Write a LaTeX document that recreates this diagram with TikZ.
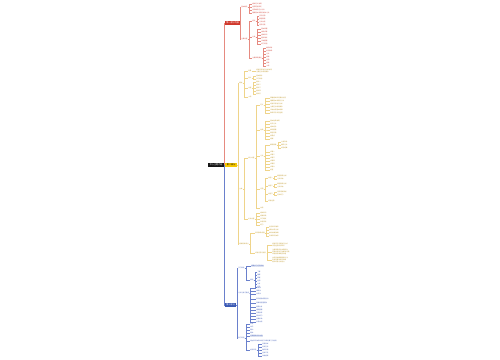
\documentclass[tikz,border=0pt]{standalone}
\usepackage{fontspec}
\newfontfamily\cjk{Noto Sans CJK SC}
\usetikzlibrary{positioning}
\definecolor{rootbg}{HTML}{151515}
\definecolor{redbox}{HTML}{D0382C}
\definecolor{redln}{HTML}{E68A80}
\definecolor{redtxt}{HTML}{D04A40}
\definecolor{yelbox}{HTML}{F6C800}
\definecolor{yelln}{HTML}{EFD48A}
\definecolor{yeltxt}{HTML}{C09A30}
\definecolor{bluebox}{HTML}{3A59B4}
\definecolor{blueln}{HTML}{6A80CC}
\definecolor{bluetxt}{HTML}{4560B8}
\newcommand\boxfont{\cjk\fontsize{3}{3.4}\selectfont}
\newcommand\leaffont{\cjk\fontsize{2.2}{2.6}\selectfont}
\tikzstyle{mainbox}=[inner sep=0.5pt, anchor=west, minimum height=5.4pt, font=\boxfont]
\tikzstyle{leaf}=[inner sep=0.3pt, anchor=west, font=\leaffont, align=left]
\tikzstyle{redarrow}=[redln, line width=0.35pt]
\tikzstyle{yelarrow}=[yelln, line width=0.35pt]
\tikzstyle{bluearrow}=[blueln, line width=0.35pt]

\begin{document}
\begin{tikzpicture}[x=0.05cm, y=-0.05cm]
  \useasboundingbox (0,0) rectangle (500,360);

  \node[mainbox,fill=rootbg,text=white,minimum width=0.8cm] (root) at (208,165) {中心主题内容};

  % first branch
  \node[mainbox,fill=redbox,text=white,minimum width=0.75cm] (red) at (225,23) {第一部分内容};
  \draw[redarrow, line width=0.6pt] (root.east) |- (red.west);
  \node[leaf,text=redtxt] (r1) at (241,7) {基本概念};
  \node[leaf,text=redtxt] (r2) at (241,39) {主要内容};
  \draw[redarrow] (red.east) |- (r1.west);
  \draw[redarrow] (red.east) |- (r2.west);
  \foreach \y/\t in {4/相关定义说明, 7/适用范围界定, 10/常见概念区分方法, 13/理解基本原理与相关方法}
    {\node[leaf,text=redtxt] (r1-\y) at (252,\y) {\t};
     \draw[redarrow] (r1.east) -- ++(1,0) |- (r1-\y.west);}
  \node[leaf,text=redtxt] (r2a) at (252,21) {特点};
  \node[leaf,text=redtxt] (r2b) at (252,37) {分类};
  \node[leaf,text=redtxt] (r2c) at (252,58) {注意事项要点};
  \foreach \n in {r2a,r2b,r2c} \draw[redarrow] (r2.east) -- ++(1,0) |- (\n.west);
  \foreach \y/\t in {16/实际应用, 19/典型例题, 22/方法总结, 25/常见问题}
    {\node[leaf,text=redtxt] (r2a-\y) at (259,\y) {\t};
     \draw[redarrow] (r2a.east) -- ++(1,0) |- (r2a-\y.west);}
  \foreach \y/\t in {29/基本原理, 32/操作步骤, 35/相关知识, 38/重点难点, 41/归纳整理, 44/练习巩固}
    {\node[leaf,text=redtxt] (r2b-\y) at (261,\y) {\t};
     \draw[redarrow] (r2b.east) -- ++(1,0) |- (r2b-\y.west);}
  \foreach \y/\t in {48/概念辨析, 51/前后联系, 54/方法, 57/规律, 60/应用, 63/拓展, 66/小结}
    {\node[leaf,text=redtxt] (r2c-\y) at (266,\y) {\t};
     \draw[redarrow] (r2c.east) -- ++(1,0) |- (r2c-\y.west);}

  % second branch
  \node[mainbox,fill=yelbox,text=black,minimum width=0.6cm] (yel) at (225,165) {第二部分};
  \draw[yelarrow, line width=0.6pt] (root.east) -- (yel.west);
  \node[leaf,text=yeltxt] (y1) at (239,83) {概述};
  \node[leaf,text=yeltxt] (y2) at (239,189) {主体};
  \node[leaf,text=yeltxt] (y3) at (239,244) {拓展延伸部分};
  \foreach \n in {y1,y2,y3} \draw[yelarrow] (yel.east) -- ++(1,0) |- (\n.west);

  \node[leaf,text=yeltxt] (y1a) at (248,71) {背景};
  \node[leaf,text=yeltxt] (y1b) at (248,78) {意义};
  \node[leaf,text=yeltxt] (y1c) at (248,88) {内容};
  \node[leaf,text=yeltxt] (y1d) at (248,97) {小结};
  \foreach \n in {y1a,y1b,y1c,y1d} \draw[yelarrow] (y1.east) -- ++(1,0) |- (\n.west);
  \node[leaf,text=yeltxt] (y1a-1) at (256,71) {结合实例进行分析说明\\注意区分相近概念};
  \draw[yelarrow] (y1a.east) -- (y1a-1.west);
  \foreach \y/\t in {76/基本要求, 79/学习目标}
    {\node[leaf,text=yeltxt] (y1b-\y) at (256,\y) {\t};
     \draw[yelarrow] (y1b.east) -- ++(1,0) |- (y1b-\y.west);}
  \foreach \y/\t in {82/要点一, 85/要点二, 88/要点三, 91/要点四, 94/要点五}
    {\node[leaf,text=yeltxt] (y1c-\y) at (256,\y) {\t};
     \draw[yelarrow] (y1c.east) -- ++(1,0) |- (y1c-\y.west);}

  \node[leaf,text=yeltxt] (y2a) at (248,158) {核心内容};
  \node[leaf,text=yeltxt] (y2b) at (248,219) {补充内容};
  \foreach \n in {y2a,y2b} \draw[yelarrow] (y2.east) -- ++(1,0) |- (\n.west);
  \node[leaf,text=yeltxt] (ya) at (260,105) {定义};
  \node[leaf,text=yeltxt] (yb) at (260,130) {性质};
  \node[leaf,text=yeltxt] (yc) at (260,156) {方法};
  \node[leaf,text=yeltxt] (yd) at (260,189) {应用};
  \node[leaf,text=yeltxt] (ye) at (260,208) {总结};
  \foreach \n in {ya,yb,yc,yd,ye} \draw[yelarrow] (y2a.east) -- ++(1,0) |- (\n.west);
  \foreach \y/\t in {98/掌握相关知识要点内容, 101/理解基本原理与方法, 104/结合实例进行分析, 107/注意区分相近概念, 110/归纳总结基本规律, 113/联系实际灵活运用}
    {\node[leaf,text=yeltxt] (ya-\y) at (270,\y) {\t};
     \draw[yelarrow] (ya.east) -- ++(1,0) |- (ya-\y.west);}
  \foreach \y/\t in {121/基本性质说明, 124/判定方法, 127/相关结论, 130/推论整理, 133/典型问题, 136/易错点, 139/拓展}
    {\node[leaf,text=yeltxt] (yb-\y) at (270,\y) {\t};
     \draw[yelarrow] (yb.east) -- ++(1,0) |- (yb-\y.west);}
  \node[leaf,text=yeltxt] (yc1) at (270,145) {解题思路};
  \draw[yelarrow] (yc.east) -- ++(1,0) |- (yc1.west);
  \foreach \y/\t in {142/分析条件, 145/确定方法, 148/检验结果}
    {\node[leaf,text=yeltxt] (yc1-\y) at (281,\y) {\t};
     \draw[yelarrow] (yc1.east) -- ++(1,0) |- (yc1-\y.west);}
  \foreach \y/\t in {152/步骤一, 155/步骤二, 158/步骤三, 161/步骤四, 164/步骤五, 167/步骤六, 170/检查}
    {\node[leaf,text=yeltxt] (yc-\y) at (270,\y) {\t};
     \draw[yelarrow] (yc.east) -- ++(1,0) |- (yc-\y.west);}
  \node[leaf,text=yeltxt] (yd1) at (268,178) {类型一};
  \node[leaf,text=yeltxt] (yd2) at (268,186) {类型二};
  \node[leaf,text=yeltxt] (yd3) at (268,194) {类型三};
  \node[leaf,text=yeltxt] (yd4) at (268,201) {综合运用};
  \foreach \n in {yd1,yd2,yd3,yd4} \draw[yelarrow] (yd.east) -- ++(1,0) |- (\n.west);
  \foreach \p/\y/\t in {yd1/176/典型例题分析, yd1/179/方法归纳, yd2/184/典型例题分析, yd2/187/方法归纳, yd3/192/常见错误辨析, yd3/195/变式练习}
    {\node[leaf,text=yeltxt] (\p-\y) at (277,\y) {\t};
     \draw[yelarrow] (\p.east) -- ++(1,0) |- (\p-\y.west);}
  \foreach \y/\t in {213/相关知识, 216/拓展阅读, 219/学习建议, 222/参考资料, 225/练习}
    {\node[leaf,text=yeltxt] (y2b-\y) at (260,\y) {\t};
     \draw[yelarrow] (y2b.east) -- ++(1,0) |- (y2b-\y.west);}

  \node[leaf,text=yeltxt] (y3a) at (255,233) {知识联系梳理};
  \node[leaf,text=yeltxt] (y3b) at (255,253) {综合应用与提升};
  \foreach \n in {y3a,y3b} \draw[yelarrow] (y3.east) -- ++(1,0) |- (\n.west);
  \foreach \y/\t in {227/前后知识联系, 230/横向比较分析, 233/纵向发展脉络, 236/形成知识体系}
    {\node[leaf,text=yeltxt] (y3a-\y) at (269,\y) {\t};
     \draw[yelarrow] (y3a.east) -- ++(1,0) |- (y3a-\y.west);}
  \foreach \y/\t in {245/结合实际问题进行分析\\灵活运用所学知识, 252/注意审题抓住关键条件\\选择合适的方法解决问题\\并检验结果是否合理, 260/总结归纳解题规律方法\\形成完整的知识网络\\提升综合分析能力}
    {\node[leaf,text=yeltxt] (y3b-\y) at (272,\y) {\t};
     \draw[yelarrow] (y3b.east) -- ++(1,0) |- (y3b-\y.west);}

  % third branch
  \node[mainbox,fill=bluebox,text=white,minimum width=0.55cm] (blue) at (225,305) {第三部分};
  \draw[bluearrow, line width=0.6pt] (root.east) |- (blue.west);
  \node[leaf,text=bluetxt] (b1) at (238,268) {学习目标};
  \node[leaf,text=bluetxt] (b2) at (238,293) {方法与技巧要点};
  \node[leaf,text=bluetxt] (b3) at (238,338) {复习巩固};
  \foreach \n in {b1,b2,b3} \draw[bluearrow] (blue.east) -- ++(1,0) |- (\n.west);

  \node[leaf,text=bluetxt,fill=bluebox!15] (b1a) at (251,266) {明确学习任务目标};
  \node[leaf,text=bluetxt] (b1b) at (250,280) {要求};
  \foreach \n in {b1a,b1b} \draw[bluearrow] (b1.east) -- ++(1,0) |- (\n.west);
  \foreach \y/\t in {272/了解, 275/理解, 278/掌握, 281/运用, 284/分析, 287/评价}
    {\node[leaf,text=bluetxt] (b1b-\y) at (257,\y) {\t};
     \draw[bluearrow] (b1b.east) -- ++(1,0) |- (b1b-\y.west);}

  \foreach \y/\t in {288/归纳法, 291/演绎法, 294/比较法, 299/知识结构梳理方法, 303/思维导图整理法, 307/例题分析, 310/错题整理, 313/专题训练, 316/限时练习, 319/查漏补缺, 322/反思总结}
    {\node[leaf,text=bluetxt] (b2-\y) at (256,\y) {\t};
     \draw[bluearrow] (b2.east) -- ++(1,0) |- (b2-\y.west);}

  \node[leaf,text=bluetxt,fill=bluebox!15] (b3a) at (250,336) {定期回顾所学内容};
  \node[leaf,text=bluetxt] (b3b) at (250,341) {建立知识体系并进行系统的复习与检测};
  \node[leaf,text=bluetxt] (b3c) at (250,350) {检测评价};
  \foreach \n in {b3a,b3b,b3c} \draw[bluearrow] (b3.east) -- ++(1,0) |- (\n.west);
  \foreach \y/\t in {324/阶段, 327/单元, 330/期中, 333/期末}
    {\node[leaf,text=bluetxt] (b3-\y) at (250,\y) {\t};
     \draw[bluearrow] (b3.east) -- ++(1,0) |- (b3-\y.west);}
  \foreach \y/\t in {344/自我测试, 347/同伴互评, 350/教师反馈, 353/查找不足, 356/改进提高}
    {\node[leaf,text=bluetxt] (b3c-\y) at (262,\y) {\t};
     \draw[bluearrow] (b3c.east) -- ++(1,0) |- (b3c-\y.west);}
\end{tikzpicture}
\end{document}
